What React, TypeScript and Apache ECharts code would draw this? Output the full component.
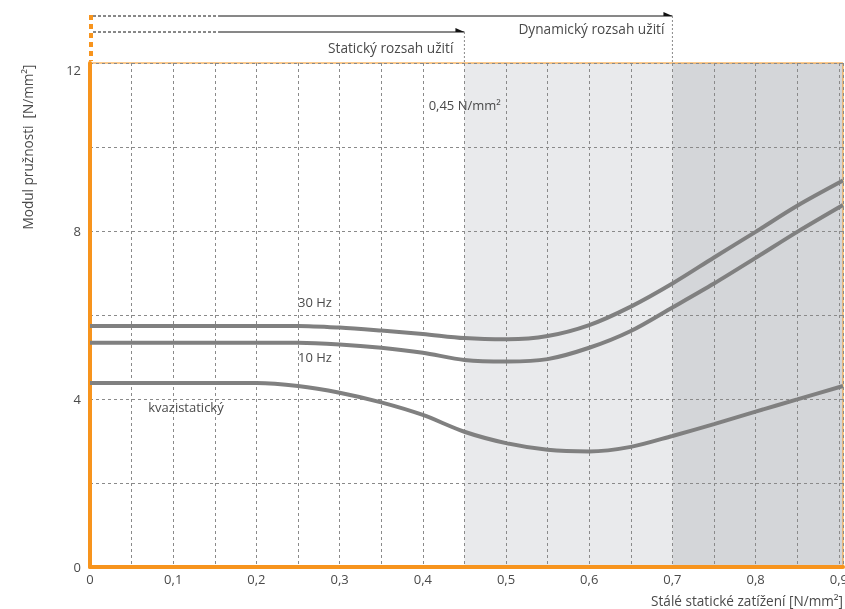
import React, { useEffect, useRef } from "react";
import * as echarts from "echarts";

const X = [0, 0.05, 0.1, 0.15, 0.2, 0.25, 0.3, 0.35, 0.4, 0.45, 0.5, 0.55, 0.6, 0.65, 0.7, 0.75, 0.8, 0.85, 0.905];
const HZ30 = [5.74, 5.74, 5.74, 5.74, 5.74, 5.74, 5.7, 5.63, 5.55, 5.45, 5.42, 5.5, 5.76, 6.2, 6.75, 7.37, 7.98, 8.6, 9.2];
const HZ10 = [5.34, 5.34, 5.34, 5.34, 5.34, 5.34, 5.3, 5.22, 5.1, 4.93, 4.89, 4.95, 5.22, 5.62, 6.18, 6.75, 7.36, 7.98, 8.62];
const KVAZI = [4.38, 4.38, 4.38, 4.38, 4.38, 4.31, 4.15, 3.92, 3.62, 3.22, 2.95, 2.79, 2.75, 2.86, 3.12, 3.4, 3.7, 3.99, 4.31];
const SERIES_NAMES = ["30 Hz", "10 Hz", "kvazistatický"];
const X_MAX = 0.905;
const STATIC_LIMIT = 0.45;
const DYNAMIC_LIMIT = 0.7;

const ORANGE = "#f7941d";
const TEXT = "#4a4a4a";
const FONT = "Open Sans";

export default function App() {
  const ref = useRef<HTMLDivElement>(null);
  useEffect(() => {
    const chart = echarts.init(ref.current!, null, { renderer: "svg" });
    const lineStyle = { color: "#808080", width: 4 };
    const mk = (vals: number[]) => X.map((x, i) => [x, vals[i]]);
    chart.setOption({
      animation: false,
      grid: {
        left: 90, top: 63, right: 2, bottom: 42,
        outerBoundsMode: "none", containLabel: false,
        show: true, borderColor: ORANGE, borderWidth: 1, backgroundColor: "transparent",
      },
      xAxis: {
        type: "value", min: 0, max: X_MAX, interval: 0.05,
        axisLine: { show: true, lineStyle: { color: ORANGE, width: 4 } },
        axisTick: { show: false },
        axisLabel: {
          color: TEXT, fontFamily: FONT, fontSize: 13, margin: 5,
          formatter: (v: number) => {
            const k = Math.round(v * 100);
            if (Math.abs(v * 100 - k) > 1e-6 || k % 10 !== 0) return "";
            return k === 0 ? "0" : (k / 100).toFixed(1).replace(".", ",");
          },
        },
        splitLine: { show: true, lineStyle: { color: "#8a8a8a", type: [3, 3], width: 1 } },
      },
      yAxis: {
        type: "value", min: 0, max: 12, interval: 2,
        axisLine: { show: true, lineStyle: { color: ORANGE, width: 4 } },
        axisTick: { show: false },
        axisLabel: {
          color: TEXT, fontFamily: FONT, fontSize: 13, margin: 9,
          verticalAlignMaxLabel: "top",
          formatter: (v: number) => (v % 4 === 0 ? String(v) : ""),
        },
        splitLine: { show: true, lineStyle: { color: "#8a8a8a", type: [3, 3], width: 1 } },
      },
      series: [
        {
          type: "line", data: [], silent: true,
          markArea: {
            silent: true, z: -1,
            data: [
              [{ xAxis: STATIC_LIMIT, itemStyle: { color: "#e9eaec" } }, { xAxis: DYNAMIC_LIMIT }],
              [{ xAxis: DYNAMIC_LIMIT, itemStyle: { color: "#d4d6d9" } }, { xAxis: X_MAX }],
            ],
          },
        },
        { name: SERIES_NAMES[0], type: "line", data: mk(HZ30), smooth: 0.3, showSymbol: false, lineStyle, z: 3 },
        { name: SERIES_NAMES[1], type: "line", data: mk(HZ10), smooth: 0.3, showSymbol: false, lineStyle, z: 3 },
        { name: SERIES_NAMES[2], type: "line", data: mk(KVAZI), smooth: 0.3, showSymbol: false, lineStyle, z: 3 },
      ],
    });

    const p = (x: number, y: number) => chart.convertToPixel({ gridIndex: 0 }, [x, y]) as number[];
    const [x0, yTop] = p(0, 12);
    const [, yBot] = p(0, 0);
    const [xS] = p(STATIC_LIMIT, 0);
    const [xD] = p(DYNAMIC_LIMIT, 0);
    const [xR] = p(X_MAX, 0);
    const xDash = p(0.154, 0)[0];
    const yA1 = 16;
    const yA2 = 32;
    const F = `13.7px "${FONT}"`;
    const txt = (x: number, y: number, text: string, align: string, font: string = F) => ({
      type: "text", x, y, z: 10,
      style: { text, fill: TEXT, font, align, verticalAlign: "middle" },
    });
    const ln = (x1: number, y1: number, x2: number, y2: number, style: any) => ({
      type: "line", z: 10, shape: { x1, y1, x2, y2 }, style,
    });
    const arrow = (x: number, y: number) => ({
      type: "polygon", z: 10,
      shape: { points: [[x - 9, y - 4], [x, y], [x - 9, y]] },
      style: { fill: "#111" },
    });
    const l30 = p(0.25, 6.3);
    const l10 = p(0.25, 5.0);
    const lkv = p(0.07, 3.8);
    const l45 = p(0.407, 11.0);
    chart.setOption({
      graphic: [
        ln(x0 + 1, yA1 - 1, x0 + 1, yTop - 2, { stroke: ORANGE, lineWidth: 4, lineDash: [5, 4] }),
        ln(x0 + 3, yA1, xDash, yA1, { stroke: "#111", lineWidth: 1, lineDash: [3, 2] }),
        ln(xDash, yA1, xD, yA1, { stroke: "#111", lineWidth: 1 }),
        arrow(xD, yA1),
        ln(x0 + 3, yA2, xDash, yA2, { stroke: "#111", lineWidth: 1, lineDash: [3, 2] }),
        ln(xDash, yA2, xS, yA2, { stroke: "#111", lineWidth: 1 }),
        arrow(xS, yA2),
        ln(xS, yA2, xS, yTop, { stroke: "#8a8a8a", lineWidth: 1, lineDash: [2, 2] }),
        ln(xD, yA1, xD, yTop, { stroke: "#8a8a8a", lineWidth: 1, lineDash: [2, 2] }),
        txt(xS - 11, 47, "Statický rozsah užití", "right"),
        txt(xD - 8, 28, "Dynamický rozsah užití", "right"),
        txt(l45[0], l45[1], "0,45 N/mm²", "left", `13px "${FONT}"`),
        txt(l30[0], l30[1], SERIES_NAMES[0], "left", `13px "${FONT}"`),
        txt(l10[0], l10[1], SERIES_NAMES[1], "left", `13px "${FONT}"`),
        txt(lkv[0], lkv[1], SERIES_NAMES[2], "left", `13px "${FONT}"`),
        {
          type: "text", x: 27, y: 147, rotation: Math.PI / 2, z: 10,
          style: { text: "Modul pružnosti  [N/mm²]", fill: TEXT, font: `13.6px "${FONT}"`, align: "center", verticalAlign: "middle" },
        },
        txt(xR, yBot + 33, "Stálé statické zatížení [N/mm²]", "right", `13.6px "${FONT}"`),
      ],
    });
    return () => chart.dispose();
  }, []);
  return <div ref={ref} style={{ position: "fixed", left: 0, top: 0, width: 845, height: 609 }} />;
}
